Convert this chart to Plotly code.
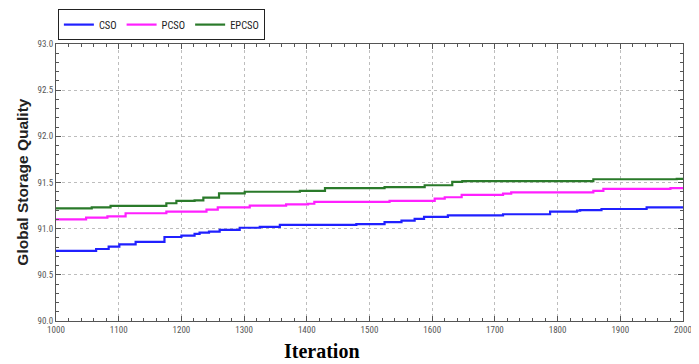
import plotly.graph_objects as go

cso_iter = [1000, 1064, 1084, 1101, 1127, 1173, 1200, 1221, 1229, 1244, 1261, 1293, 1325, 1357, 1479,
            1524, 1551, 1572, 1587, 1625, 1713, 1788, 1831, 1836, 1870, 1942, 2000]
cso_vals = [90.76, 90.78, 90.805, 90.83, 90.856, 90.91, 90.924, 90.943, 90.957, 90.968, 90.986, 91.01,
            91.02, 91.04, 91.05, 91.07, 91.087, 91.105, 91.127, 91.145, 91.156, 91.185, 91.195, 91.20,
            91.213, 91.23, 91.23]

pcso_iter = [1000, 1048, 1082, 1111, 1176, 1240, 1258, 1309, 1367, 1402, 1412, 1532, 1604, 1620, 1647,
             1713, 1726, 1857, 1873, 1980, 2000]
pcso_vals = [91.10, 91.12, 91.134, 91.167, 91.185, 91.206, 91.23, 91.25, 91.264, 91.27, 91.29, 91.30,
             91.325, 91.34, 91.365, 91.38, 91.394, 91.41, 91.43, 91.44, 91.44]

epcso_iter = [1000, 1057, 1087, 1176, 1192, 1221, 1235, 1260, 1301, 1389, 1429, 1524, 1588, 1632, 1648,
              1857, 1990, 2000]
epcso_vals = [91.22, 91.23, 91.246, 91.275, 91.30, 91.307, 91.336, 91.383, 91.40, 91.41, 91.44, 91.45,
              91.47, 91.506, 91.515, 91.535, 91.54, 91.54]

x_ticks = [1000, 1100, 1200, 1300, 1400, 1500, 1600, 1700, 1800, 1900, 2000]
y_ticks = [90.0, 90.5, 91.0, 91.5, 92.0, 92.5, 93.0]

series = [
    ("CSO", cso_iter, cso_vals, "#2020ff"),
    ("PCSO", pcso_iter, pcso_vals, "#ff20ff"),
    ("EPCSO", epcso_iter, epcso_vals, "#2a7a2a"),
]

fig = go.Figure()
for name, xs, ys, col in series:
    fig.add_trace(go.Scatter(
        x=xs, y=ys, name=name, mode="lines",
        line=dict(color=col, width=2.2, shape="hv"),
    ))

narrow = "Liberation Sans Narrow, Arial Narrow, Roboto Condensed, DejaVu Sans Condensed, sans-serif"

# page body has an 8px margin, so the figure is sized/offset to land on the 699x364 window
fig.update_layout(
    width=691, height=356,
    margin=dict(l=48, r=16, t=36, b=43, autoexpand=False),
    paper_bgcolor="white", plot_bgcolor="white",
    showlegend=True,
    legend=dict(
        orientation="h", x=0.003, y=1.126, xanchor="left", yanchor="top",
        bordercolor="#222222", borderwidth=1,
        font=dict(family=narrow, size=10.5, color="#222222"),
        itemwidth=30, tracegroupgap=0,
    ),
    font=dict(family=narrow, size=9, color="#555555"),
)

fig.update_xaxes(
    range=[1000, 2000], tickvals=x_ticks, ticktext=[str(v) for v in x_ticks],
    showgrid=True, gridcolor="#bdbdbd", griddash="dot", gridwidth=1,
    showline=True, linecolor="#555555", linewidth=1, mirror="ticks",
    ticks="inside", ticklen=5, tickcolor="#555555",
    minor=dict(dtick=20, ticks="inside", ticklen=3, tickcolor="#555555", showgrid=False),
    zeroline=False, automargin=False,
    tickfont=dict(family=narrow, size=9, color="#555555"),
)
fig.update_yaxes(
    range=[90.0, 93.0], tickvals=y_ticks, ticktext=[f"{v:.1f}" for v in y_ticks],
    showgrid=True, gridcolor="#bdbdbd", griddash="dot", gridwidth=1,
    showline=True, linecolor="#555555", linewidth=1, mirror="ticks",
    ticks="inside", ticklen=5, tickcolor="#555555",
    minor=dict(dtick=0.1, ticks="inside", ticklen=3, tickcolor="#555555", showgrid=False),
    zeroline=False, automargin=False,
    tickfont=dict(family=narrow, size=9, color="#555555"),
)

fig.add_annotation(
    text="<b>Global Storage Quality</b>", xref="paper", yref="paper",
    x=-0.054, y=0.5, xanchor="center", yanchor="middle", textangle=-90,
    showarrow=False, font=dict(family="Liberation Sans, Arial, sans-serif", size=15.5, color="#222222"),
)
fig.add_annotation(
    text="<b>Iteration</b>", xref="paper", yref="paper",
    x=0.424, y=-0.062, xanchor="center", yanchor="top",
    showarrow=False, font=dict(family="Liberation Serif, Times New Roman, serif", size=20, color="#000000"),
)

fig.write_html("out.html")
